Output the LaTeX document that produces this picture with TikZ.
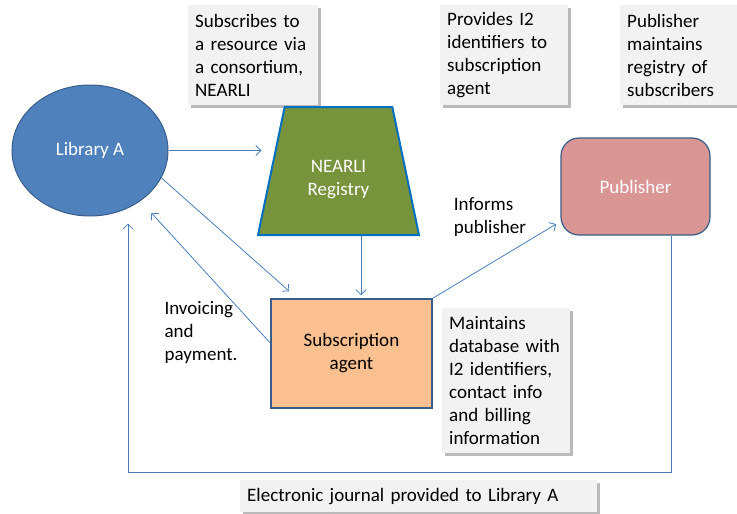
\documentclass[tikz,border=0pt]{standalone}
\usepackage{fontspec}
\setmainfont{Carlito}
\usetikzlibrary{shapes.geometric,shadows,arrows.meta}
\definecolor{libfill}{HTML}{4F81BD}
\definecolor{shapeline}{HTML}{385D8A}
\definecolor{regfill}{HTML}{77933C}
\definecolor{regline}{HTML}{0070C0}
\definecolor{pubfill}{HTML}{D99694}
\definecolor{agentfill}{HTML}{FAC090}
\definecolor{notefill}{HTML}{F2F2F2}
\definecolor{linkblue}{HTML}{4A7EBB}
\begin{document}
\begin{tikzpicture}[x=1pt,y=-1pt,font=\fontsize{19}{23}\selectfont,
	arr/.style={draw=linkblue,line width=0.8pt,-{Straight Barb[length=5pt,width=10pt]}},
	note/.style={fill=notefill,anchor=north west,align=left,inner sep=7pt,
		drop shadow={shadow xshift=2.5pt,shadow yshift=-2.5pt,fill=black!45,opacity=0.6}}]
				\useasboundingbox (0,0) rectangle (737,514);
				\node[note,text width=116pt,minimum height=100pt] (subnote) at (188,5) {Subscribes to\\a resource via\\a consortium,\\NEARLI};
				\node[note,text width=114pt,minimum height=100pt] (idnote) at (440,5) {Provides I2\\identifiers to\\subscription\\agent};
				\node[note,text width=104pt,minimum height=100pt] (pubnote) at (620,5) {Publisher\\maintains\\registry of\\subscribers};
				\node[note,text width=114pt,minimum height=145pt] (dbnote) at (442,308) {Maintains\\database with\\I2 identifiers,\\contact info\\and billing\\information};
				\node[note,text width=343pt,minimum height=32pt] (ejnote) at (240,480) {Electronic journal provided to Library A};
				\node[ellipse,draw=shapeline,line width=1pt,fill=libfill,text=white,minimum width=156pt,minimum height=131pt] (lib) at (90,150.5) {Library A};
				\node[trapezium,trapezium left angle=76,trapezium right angle=76,trapezium stretches=true,minimum width=161pt,minimum height=128pt,inner sep=0pt,draw=regline,line width=2pt,fill=regfill] (nearli) at (338.5,171) {\phantom{N}};
				\node[text=white,align=center] (nearlitext) at ([yshift=-9pt]nearli.center) {NEARLI\\Registry};
				\node[draw=shapeline,line width=1.5pt,fill=agentfill,minimum width=161pt,minimum height=109pt,align=center] (agent) at (351.5,353.5) {Subscription\\agent};
				\node[draw=shapeline,line width=1.2pt,fill=pubfill,text=white,rounded corners=18pt,minimum width=149pt,minimum height=97pt] (pub) at (635.5,186.5) {Publisher};
				\node[align=left] (informs) at (490,217) {Informs\\publisher};
				\node[align=left] (invoice) at (201,332) {Invoicing\\and\\payment.};
				\coordinate (ret) at (671,472);
				\draw[arr,shorten >=9pt] (lib.east) -- (lib.east -| nearli.west);
				\draw[arr] (lib.-21) -- ([xshift=19pt,yshift=7pt]agent.north west);
				\draw[arr,shorten >=16pt] ([yshift=10.5pt]agent.west) -- (lib.-45);
				\draw[arr,shorten >=3pt] ([xshift=22.5pt]nearli.south) -- ([xshift=22.5pt]nearli.south |- agent.north);
				\draw[arr,shorten >=5pt] (agent.north east) -- ([yshift=-35pt]pub.west);
				\draw[arr] ([xshift=35.5pt]pub.south) -- (ret) -| ([xshift=38pt,yshift=-7pt]lib.south);
			\end{tikzpicture}
\end{document}
